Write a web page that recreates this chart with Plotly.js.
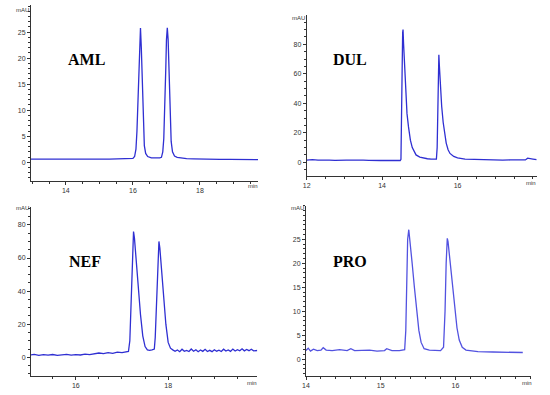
<!DOCTYPE html>
<html>
<head>
<meta charset="utf-8">
<script src="https://cdn.plot.ly/plotly-3.0.1.min.js"></script>
<style>html,body{margin:0;padding:0;background:#fff}#chart{width:550px;height:395px}</style>
</head>
<body>
<div id="chart"></div>
<script>
// ---- Data (time in min, signal in mAU) ----
const panelNames = ["AML", "DUL", "NEF", "PRO"];

const amlTime = [12.96,13.2,13.5,13.8,14.1,14.4,14.7,15.0,15.3,15.6,15.9,16.0,16.05,16.09,16.12,16.15,16.18,16.205,16.225,16.25,16.28,16.31,16.34,16.38,16.44,16.55,16.7,16.8,16.85,16.89,16.92,16.95,16.98,17.0,17.025,17.05,17.08,17.11,17.14,17.18,17.24,17.32,17.45,17.6,17.8,18.0,18.3,18.6,18.9,19.2,19.5,19.73];
const amlSignal = [0.6,0.62,0.58,0.6,0.6,0.58,0.6,0.62,0.62,0.65,0.7,0.75,1.1,2.5,6,12.5,20,25,25.8,22,14,7,3.2,1.7,1.1,0.85,0.8,0.85,0.95,2,4.5,10,18,23.5,25.8,23.5,16,8.5,4,2,1.2,0.95,0.8,0.7,0.65,0.6,0.6,0.55,0.55,0.5,0.45,0.5];

const dulTime = [12.0,12.15,12.3,12.45,12.6,12.75,12.9,13.05,13.2,13.35,13.5,13.65,13.8,13.95,14.1,14.25,14.4,14.48,14.5,14.515,14.53,14.545,14.555,14.57,14.6,14.63,14.66,14.7,14.75,14.8,14.85,14.9,15.0,15.1,15.2,15.3,15.42,15.44,15.46,15.48,15.495,15.505,15.52,15.55,15.58,15.62,15.66,15.7,15.75,15.8,15.9,16.0,16.2,16.4,16.6,16.8,17.0,17.2,17.4,17.6,17.8,17.86,17.92,18.0,18.1];
const dulSignal = [1.5,1.8,1.4,1.7,1.5,1.3,1.6,1.4,1.5,1.2,1.4,1.3,1.5,1.2,1.3,1.1,1.2,1.2,2,20,60,88,90,80,62,45,33,24,15,10,7,5,3.5,2.8,2.4,2.2,2.1,2.2,10,45,70,73,65,50,38,27,19,13,8.5,6,4,3,2.2,2.0,1.8,1.7,1.6,1.5,1.6,1.5,1.6,2.8,2.4,2.2,1.8];

const nefTime = [15.03,15.1,15.2,15.3,15.4,15.5,15.6,15.7,15.8,15.9,16.0,16.1,16.2,16.3,16.4,16.5,16.6,16.7,16.8,16.9,17.0,17.1,17.14,17.17,17.2,17.23,17.25,17.27,17.3,17.35,17.4,17.45,17.5,17.55,17.6,17.65,17.7,17.72,17.75,17.78,17.8,17.82,17.86,17.9,17.95,18.0,18.05,18.1,18.15,18.2,18.25,18.3,18.35,18.4,18.45,18.5,18.55,18.6,18.65,18.7,18.75,18.8,18.85,18.9,18.95,19.0,19.05,19.1,19.15,19.2,19.25,19.3,19.35,19.4,19.45,19.5,19.55,19.6,19.65,19.7,19.75,19.8,19.85,19.93];
const nefSignal = [1.4,1.8,1.2,1.6,1.3,1.7,1.2,1.5,1.8,1.3,1.6,1.4,1.9,1.6,2.2,2.6,2.2,2.8,2.4,3.1,2.8,3.3,3.5,10,40,70,76,72,60,42,26,13,6.5,4.5,4.2,4.5,5,12,35,62,70,66,52,36,20,9,5.5,4.5,3.6,4.4,3.4,4.9,3.6,4.2,3.5,5.0,3.7,4.6,3.4,4.4,3.6,4.8,3.5,4.2,3.4,4.6,3.7,4.3,3.5,4.9,3.8,4.4,3.6,5.0,3.8,4.6,3.9,5.1,3.9,4.7,4.0,4.9,3.9,4.1];

const proTime = [14.0,14.03,14.06,14.1,14.15,14.2,14.23,14.27,14.35,14.45,14.55,14.6,14.65,14.75,14.85,14.95,15.05,15.08,15.15,15.25,15.32,15.335,15.35,15.36,15.375,15.39,15.42,15.45,15.48,15.51,15.54,15.58,15.65,15.72,15.8,15.84,15.86,15.875,15.89,15.9,15.93,15.96,15.99,16.02,16.05,16.09,16.14,16.3,16.5,16.7,16.9];
const proSignal = [1.8,2.3,1.7,2.1,1.8,1.9,2.4,1.9,1.8,2.0,1.8,2.2,1.8,1.8,1.9,1.7,1.8,2.2,1.8,1.8,2,6,18,25,27,25,20,15,10,6,3.5,2.2,1.9,1.8,1.8,2.5,10,20,25.2,24.5,20,15,10.5,6.5,4,2.5,1.9,1.6,1.5,1.5,1.4];

// Labelled tick values
const amlXTicks = [14, 16, 18], amlYTicks = [0, 5, 10, 15, 20, 25];
const dulXTicks = [12, 14, 16], dulYTicks = [0, 20, 40, 60, 80];
const nefXTicks = [16, 18], nefYTicks = [0, 20, 40, 60, 80];
const proXTicks = [14, 15, 16], proYTicks = [0, 5, 10, 15, 20, 25];

// ---- Layout geometry (pixels in a 550x395 page) ----
const W = 550, H = 395;
const panels = [
  {t: amlTime, s: amlSignal, xt: amlXTicks, yt: amlYTicks, x0: 31, x1: 258, y0: 5, y1: 181, xr: [12.96, 19.73], yr: [-3.6, 30.2], xm: 0.5, ym: 1, color: "#2f2fd2", lab: [86, 59], mau: [31, 10], min: [253, 186]},
  {t: dulTime, s: dulSignal, xt: dulXTicks, yt: dulYTicks, x0: 306.7, x1: 536.7, y0: 15, y1: 176, xr: [12, 18.1], yr: [-9.3, 99.9], xm: 0.5, ym: 5, color: "#2f2fd2", lab: [350, 59], mau: [306.7, 18], min: [531, 183]},
  {t: nefTime, s: nefSignal, xt: nefXTicks, yt: nefYTicks, x0: 31, x1: 257.3, y0: 206.7, y1: 376, xr: [15.03, 19.93], yr: [-11.3, 91], xm: 0.5, ym: 5, color: "#2f2fd2", lab: [85, 261], mau: [31, 208], min: [252, 383]},
  {t: proTime, s: proSignal, xt: proXTicks, yt: proYTicks, x0: 306, x1: 531, y0: 205.7, y1: 376, xr: [14, 17.01], yr: [-3.5, 32], xm: 0.2, ym: 1, color: "#5252e0", lab: [350, 261], mau: [306, 208], min: [527, 383]}
];

const data = [], layout = {
  width: W, height: H, margin: {l: 0, r: 0, t: 0, b: 0},
  paper_bgcolor: "#fff", plot_bgcolor: "#fff", showlegend: false,
  font: {family: "Liberation Sans, Arial, sans-serif", size: 7, color: "#333"},
  annotations: []
};
const axisStyle = {
  showline: true, linecolor: "#333", linewidth: 1, showgrid: false, zeroline: false,
  ticks: "outside", ticklen: 3, tickwidth: 1, tickcolor: "#333", tickmode: "array",
  tickfont: {size: 7, color: "#333", family: "Liberation Sans, Arial, sans-serif"}
};
panels.forEach((p, i) => {
  const n = i === 0 ? "" : String(i + 1);
  data.push({x: p.t, y: p.s, type: "scatter", mode: "lines", xaxis: "x" + n, yaxis: "y" + n,
    line: {color: p.color, width: 1.3}, hoverinfo: "skip"});
  layout["xaxis" + n] = Object.assign({}, axisStyle, {
    domain: [p.x0 / W, p.x1 / W], range: p.xr, anchor: "y" + n, tickvals: p.xt,
    minor: {tickmode: "linear", ticks: "outside", ticklen: 2, dtick: p.xm, tick0: 0, tickcolor: "#333"}
  });
  layout["yaxis" + n] = Object.assign({}, axisStyle, {
    domain: [1 - p.y1 / H, 1 - p.y0 / H], range: p.yr, anchor: "x" + n, tickvals: p.yt,
    minor: {tickmode: "linear", ticks: "outside", ticklen: 2, dtick: p.ym, tick0: 0, tickcolor: "#333"}
  });
  layout.annotations.push(
    {xref: "paper", yref: "paper", x: p.lab[0] / W, y: 1 - p.lab[1] / H, text: "<b>" + panelNames[i] + "</b>",
     showarrow: false, xanchor: "center", yanchor: "middle",
     font: {family: "Liberation Serif, Times New Roman, serif", size: 16, color: "#000"}},
    {xref: "paper", yref: "paper", x: p.mau[0] / W, y: 1 - p.mau[1] / H, text: "mAU",
     showarrow: false, xanchor: "right", yanchor: "middle", font: {size: 6, color: "#333"}},
    {xref: "paper", yref: "paper", x: p.min[0] / W, y: 1 - p.min[1] / H, text: "min",
     showarrow: false, xanchor: "center", yanchor: "middle", font: {size: 6, color: "#333"}}
  );
});
Plotly.newPlot("chart", data, layout, {staticPlot: true, displayModeBar: false});
</script>
</body>
</html>
